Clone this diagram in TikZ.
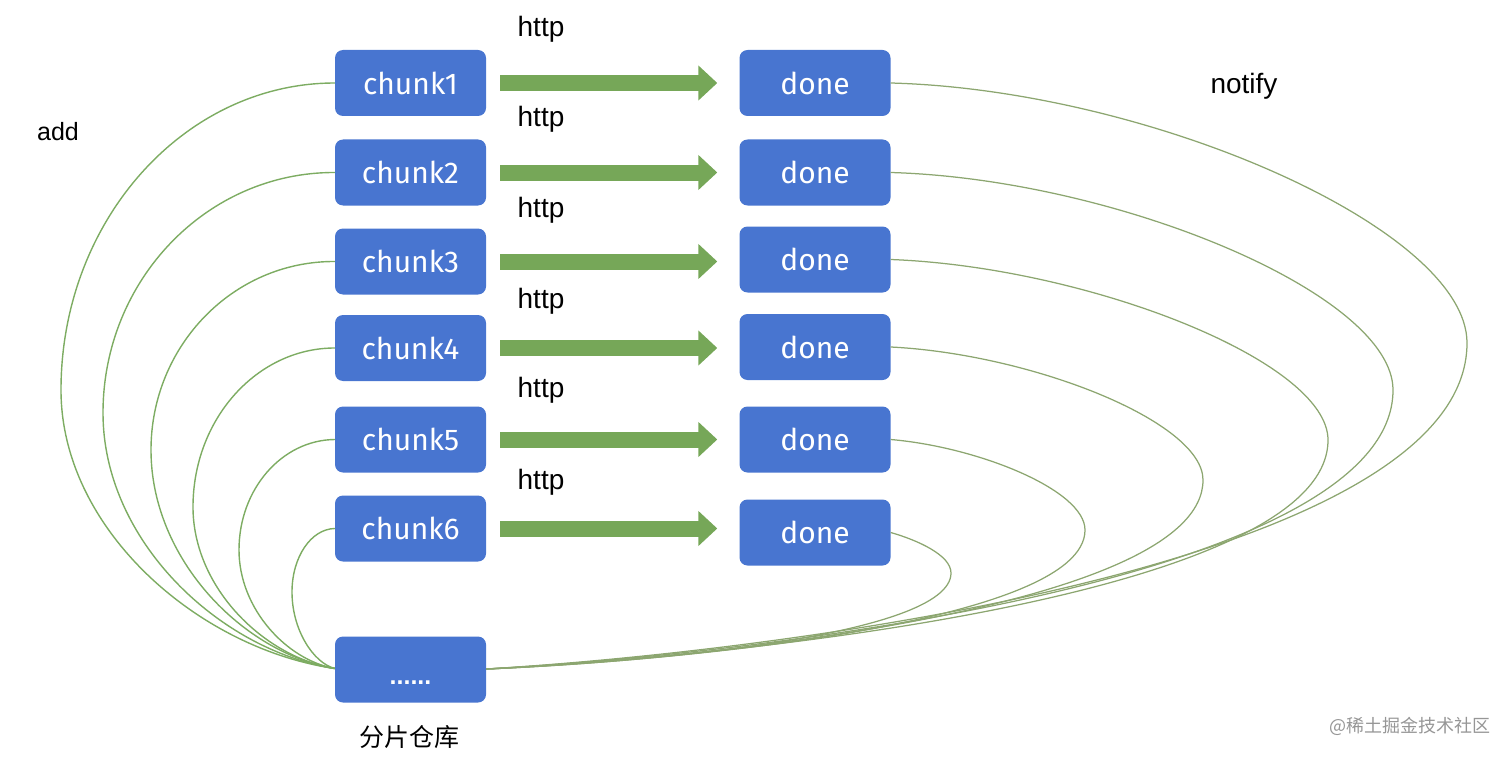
\documentclass[tikz,border=0pt]{standalone}
\usepackage{fontspec}
\setmainfont{Liberation Sans}
\newfontfamily\boxfont{Fira Sans}
\newfontfamily\cjkfont{Noto Sans CJK SC}
\usetikzlibrary{arrows.meta,calc}
\definecolor{boxblue}{RGB}{72,117,208}
\definecolor{arrowgreen}{RGB}{118,167,88}
\definecolor{curveL}{RGB}{125,172,98}
\definecolor{curveR}{RGB}{140,166,112}
\definecolor{wmgray}{RGB}{150,150,150}
\tikzset{
  box/.style={rectangle, rounded corners=8pt, fill=boxblue, text=white,
    minimum width=151pt, minimum height=66pt, inner sep=0pt,
    font=\boxfont\fontsize{30}{32}\selectfont},
  fat/.style={draw=arrowgreen, line width=16pt,
    -{Triangle[length=19pt,width=34pt]}},
  addline/.style={draw=curveL, line width=1.4pt},
  notline/.style={draw=curveR, line width=1.25pt},
  lbl/.style={font=\fontsize{28}{30}\selectfont, anchor=base, inner sep=0pt},
}
\begin{document}
\begin{tikzpicture}[x=1pt,y=-1pt]
\useasboundingbox (0,0) rectangle (1512,757);
% chunk boxes
\node[box] (c1) at (410.5,83) {chunk1};
\node[box] (c2) at (410.5,172.5) {chunk2};
\node[box] (c3) at (410.5,261.5) {chunk3};
\node[box] (c4) at (410.5,348) {chunk4};
\node[box] (c5) at (410.5,439.5) {chunk5};
\node[box] (c6) at (410.5,528.5) {chunk6};
\node[box] (st) at (410.5,669.5) {};
\node[font=\bfseries\fontsize{25}{27}\selectfont, text=white, anchor=base, inner sep=0pt] (dots) at (410.5,684) {......};
% done boxes
\node[box] (d1) at (815,83) {done};
\node[box] (d2) at (815,172.5) {done};
\node[box] (d3) at (815,259.5) {done};
\node[box] (d4) at (815,347) {done};
\node[box] (d5) at (815,439.5) {done};
\node[box] (d6) at (815,532.5) {done};
% http arrows
\foreach \i in {1,...,6}{
  \draw[fat] ($(c\i.east)+(14,0)$) -- ($(d\i.west |- c\i.east)+(-22,0)$);
}
% http labels
\node[lbl] (h1) at (541,37) {http};
\node[lbl] (h2) at (541,127) {http};
\node[lbl] (h3) at (541,217) {http};
\node[lbl] (h4) at (541,308) {http};
\node[lbl] (h5) at (541,397) {http};
\node[lbl] (h6) at (541,489) {http};
\node[lbl] (notify) at (1244,94) {notify};
\node[lbl, font=\fontsize{25}{27}\selectfont] (add) at (58,141) {add};
\node[font=\cjkfont\fontsize{25}{27}\selectfont] (cap) at (409,737) {分片仓库};
\node[font=\cjkfont\fontsize{18}{20}\selectfont, text=wmgray] (wm) at (1410,726) {@稀土掘金技术社区};
% extreme points of add curves
\coordinate (l1) at (61,390);
\coordinate (l2) at (103,413);
\coordinate (l3) at (151,450);
\coordinate (l4) at (193,507);
\coordinate (l5) at (239,550);
\coordinate (l6) at (292,592);
\draw[addline] (c1.west) .. controls (184,83) and (61,221) .. (l1) .. controls (61,529) and (198,648.5) .. ($(st.west)+(0,-1)$);
\draw[addline] (c2.west) .. controls (207,172) and (103,280) .. (l2) .. controls (103,540.5) and (219,650) .. ($(st.west)+(0,-1)$);
\draw[addline] (c3.west) .. controls (233,261) and (151,346) .. (l3) .. controls (151,559) and (243,653) .. ($(st.west)+(0,-1)$);
\draw[addline] (c4.west) .. controls (257,348) and (193,419) .. (l4) .. controls (193,587.5) and (264,657) .. ($(st.west)+(0,-1)$);
\draw[addline] (c5.west) .. controls (282,440) and (239,489) .. (l5) .. controls (239,609) and (287,660) .. ($(st.west)+(0,-1)$);
\draw[addline] (c6.west) .. controls (311,529) and (292,557) .. (l6) .. controls (292,630) and (313.5,663) .. ($(st.west)+(0,-1)$);
% extreme points of notify curves
\coordinate (r1) at (1467,343);
\coordinate (r2) at (1393,390);
\coordinate (r3) at (1328,440);
\coordinate (r4) at (1203,480);
\coordinate (r5) at (1085,530);
\coordinate (r6) at (951,573);
\draw[notline] (d1.east) .. controls (1150,90) and (1467,229) .. (r1) .. controls (1467,561) and (800,650) .. ($(st.east)+(0,-0.5)$);
\draw[notline] (d2.east) .. controls (1116,179) and (1393,294) .. (r2) .. controls (1393,577) and (776,653) .. ($(st.east)+(0,-0.5)$);
\draw[notline] (d3.east) .. controls (1087,267) and (1328,361) .. (r3) .. controls (1328,593) and (755,656) .. ($(st.east)+(0,-0.5)$);
\draw[notline] (d4.east) .. controls (1031,354) and (1203,421.5) .. (r4) .. controls (1203,607) and (715,658) .. ($(st.east)+(0,-0.5)$);
\draw[notline] (d5.east) .. controls (978,447) and (1085,490) .. (r5) .. controls (1085,623) and (678,661) .. ($(st.east)+(0,-0.5)$);
\draw[notline] (d6.east) .. controls (917,540) and (951,555) .. (r6) .. controls (951,637) and (635,663) .. ($(st.east)+(0,-0.5)$);
\end{tikzpicture}
\end{document}
